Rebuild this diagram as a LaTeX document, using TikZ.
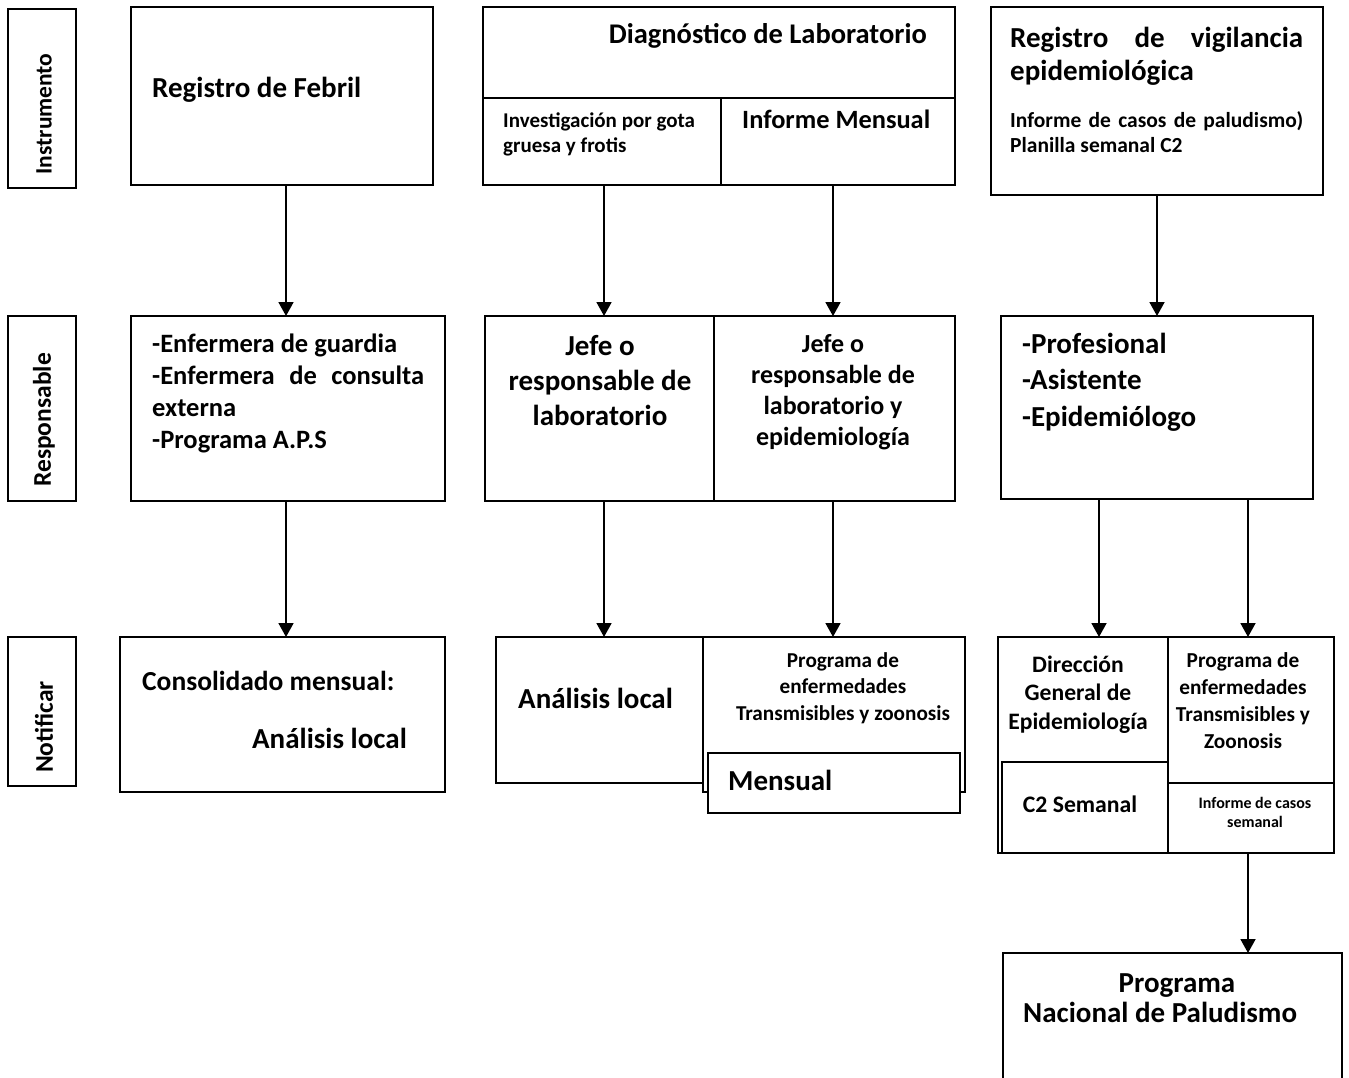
\documentclass[tikz,border=0pt]{standalone}
\usepackage{fontspec}
\setmainfont{Carlito}
\usetikzlibrary{arrows.meta}

\newcommand{\letra}[2]{\fontsize{#1pt}{#2pt}\selectfont\bfseries}

\tikzset{
  caja/.style={draw, line width=1.8pt, anchor=north west, inner sep=0pt, outer sep=0pt},
  texto/.style={inner sep=0pt, anchor=base west},
  flecha/.style={-{Triangle[width=15pt,length=14pt]}, line width=1.8pt},
}

\begin{document}
\begin{tikzpicture}[x=1pt, y=-1pt]
\useasboundingbox (0,0) rectangle (1349,1077);
\clip (0,0) rectangle (1349,1077);

% etiquetas de las filas
\node[caja, minimum width=68pt, minimum height=179pt] (instr) at (8,9) {};
\node[caja, minimum width=68pt, minimum height=185pt] (resp) at (8,316) {};
\node[caja, minimum width=68pt, minimum height=149pt] (notif) at (8,637) {};
\node[rotate=90, inner sep=0pt, font=\letra{23.5}{28}] (tinstr) at (44,114) {Instrumento};
\node[rotate=90, inner sep=0pt, font=\letra{25.5}{30}] (tresp) at (44,420) {Responsable};
\node[rotate=90, inner sep=0pt, font=\letra{25.5}{30}] (tnotif) at (44,727) {Notificar};

% columna 1: registro de febril
\node[caja, minimum width=302pt, minimum height=178pt] (febril) at (131,7) {};
\node[caja, minimum width=314pt, minimum height=185pt] (enf) at (131,316) {};
\node[caja, minimum width=325pt, minimum height=155pt] (cons) at (120,637) {};
\node[texto, font=\letra{29}{35}] (tfeb) at (152,97) {Registro de Febril};
\node[texto, text width=272pt, align=flush left, font=\letra{26.5}{32}] (tenf) at (152,352)
  {-Enfermera de guardia\\-Enfermera \hfill de \hfill consulta\\externa\\-Programa A.P.S};
\node[texto, font=\letra{27.5}{33}] (tcons) at (142,690) {Consolidado mensual:};
\node[texto, anchor=base east, font=\letra{29}{35}] (tloc1) at (407,748) {Análisis local};

\draw[flecha] ([xshift=4pt]febril.south) -- ([xshift=4pt]febril.south |- enf.north);
\draw[flecha] ([xshift=-2pt]enf.south) -- ([xshift=-2pt]enf.south |- cons.north);

% columna 2: diagnostico de laboratorio
% (en los textos de varias lineas la base es la ultima linea)
\node[caja, minimum width=472pt, minimum height=91pt] (diag) at (483,7) {};
\node[caja, minimum width=238pt, minimum height=87pt] (gota) at (483,98) {};
\node[caja, minimum width=234pt, minimum height=87pt] (infm) at (721,98) {};
\node[caja, minimum width=229pt, minimum height=185pt] (jefe1) at (485,316) {};
\node[caja, minimum width=241pt, minimum height=185pt] (jefe2) at (714,316) {};
\node[caja, minimum width=207pt, minimum height=146pt] (anal) at (496,637) {};
\node[caja, minimum width=262pt, minimum height=155pt] (prog1) at (703,637) {};
\node[caja, fill=white, minimum width=252pt, minimum height=60pt] (mens) at (708,753) {};
\node[texto, anchor=base east, font=\letra{28.5}{34}] (tdiag) at (927,43) {Diagnóstico de Laboratorio};
\node[texto, align=left, font=\letra{21}{25}] (tgota) at (503,152) {Investigación por gota\\gruesa y frotis};
\node[texto, font=\letra{26.4}{32}] (tinfm) at (742,128) {Informe Mensual};
\node[texto, anchor=base, align=center, font=\letra{29}{35}] (tjefe1) at (600,425)
  {Jefe o\\responsable de\\laboratorio};
\node[texto, anchor=base, align=center, font=\letra{26}{31}] (tjefe2) at (833,445)
  {Jefe o\\responsable de\\laboratorio y\\epidemiología};
\node[texto, font=\letra{29}{35}] (tloc2) at (518,708) {Análisis local};
\node[texto, anchor=base, align=center, font=\letra{21.2}{26.5}] (tprog1) at (843,720)
  {Programa de\\enfermedades\\Transmisibles y zoonosis};
\node[texto, font=\letra{29}{35}] (tmens) at (728,790) {Mensual};

\draw[flecha] ([xshift=2pt]gota.south) -- ([xshift=2pt]gota.south |- jefe1.north);
\draw[flecha] ([xshift=-5pt]infm.south) -- ([xshift=-5pt]infm.south |- jefe2.north);
\draw[flecha] ([xshift=4.5pt]jefe1.south) -- ([xshift=4.5pt]jefe1.south |- anal.north);
\draw[flecha] ([xshift=-1.5pt]jefe2.south) -- ([xshift=-1.5pt]jefe2.south |- prog1.north);

% columna 3: vigilancia epidemiologica
\node[caja, minimum width=332pt, minimum height=188pt] (vig) at (991,7) {};
\node[caja, minimum width=312pt, minimum height=183pt] (prof) at (1001,316) {};
\node[caja, minimum width=170pt, minimum height=216pt] (dir) at (998,637) {};
\node[caja, minimum width=166pt, minimum height=91pt] (c2) at (1002,762) {};
\node[caja, minimum width=166pt, minimum height=216pt] (prog2) at (1168,637) {};
\node[caja, minimum width=166pt, minimum height=70pt] (infsem) at (1168,783) {};
\node[caja, minimum width=339pt, minimum height=140pt] (pnp) at (1003,953) {};
\node[texto, text width=293pt, align=flush left, font=\letra{29}{33}] (tvig) at (1010,47)
  {Registro \hfill de \hfill vigilancia\\epidemiológica};
\node[texto, text width=293pt, align=flush left, font=\letra{21.5}{25}] (tplan) at (1010,127)
  {Informe \hfill de \hfill casos \hfill de \hfill paludismo)\\Planilla semanal C2};
\node[texto, align=left, font=\letra{29}{36.5}] (tprof) at (1022,426)
  {-Profesional\\-Asistente\\-Epidemiólogo};
\node[texto, anchor=base, align=center, font=\letra{23.6}{28.5}] (tdir) at (1078,729)
  {Dirección\\General de\\Epidemiología};
\node[texto, anchor=base, align=center, font=\letra{21.3}{27}] (tprog2) at (1243,748)
  {Programa de\\enfermedades\\Transmisibles y\\Zoonosis};
\node[texto, anchor=base, font=\letra{23.7}{28}] (tc2) at (1080,812) {C2 Semanal};
\node[texto, anchor=base, align=center, font=\letra{16}{19}] (tinfsem) at (1255,827)
  {Informe de casos\\semanal};
\node[texto, anchor=base, font=\letra{29}{35}] (tpnp1) at (1177,992) {Programa};
\node[texto, font=\letra{29}{35}] (tpnp2) at (1023,1022) {Nacional de Paludismo};

\draw[flecha] (vig.south) -- (vig.south |- prof.north);
\draw[flecha] ([xshift=16pt]dir.north |- prof.south) -- ([xshift=16pt]dir.north);
\draw[flecha] ([xshift=-3pt]prog2.north |- prof.south) -- ([xshift=-3pt]prog2.north);
\draw[flecha] ([xshift=-3pt]infsem.south) -- ([xshift=-3pt]infsem.south |- pnp.north);

\end{tikzpicture}
\end{document}
